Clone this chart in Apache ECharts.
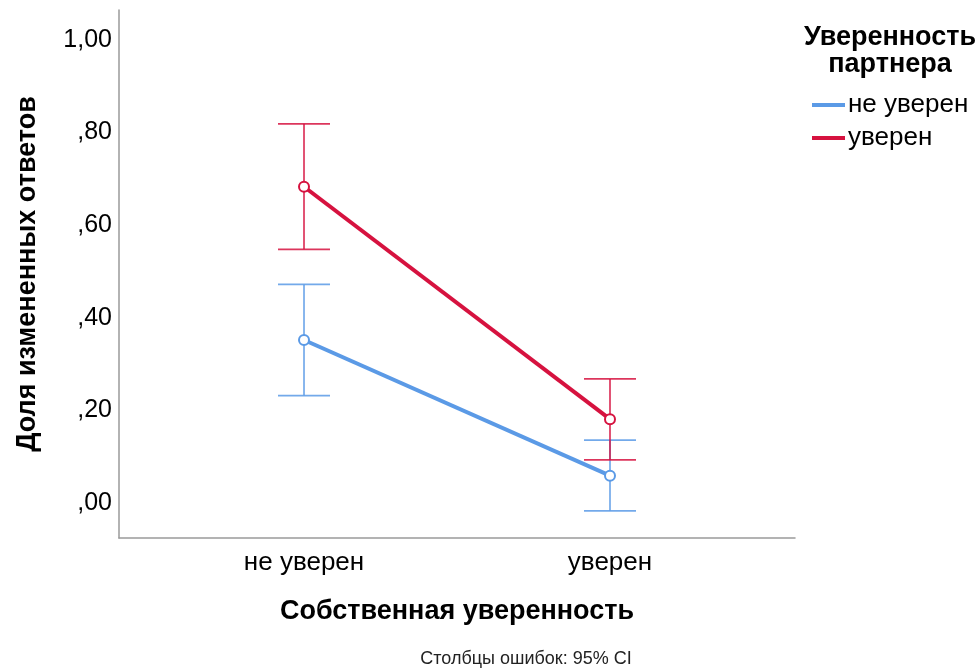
<!DOCTYPE html>
<html>
<head>
<meta charset="utf-8">
<script src="https://cdn.jsdelivr.net/npm/echarts@6/dist/echarts.min.js"></script>
<style>
  html, body { margin: 0; padding: 0; background: #fff; }
  #chart { width: 979px; height: 669px; }
</style>
</head>
<body>
<div id="chart"></div>
<script>
// Own confidence (x) by partner confidence (series): share of changed answers with 95% CI
const categories = ['не уверен', 'уверен'];
const seriesNames = ['не уверен', 'уверен'];
const meansNotSure = [0.352, 0.059];
const lowerNotSure = [0.232, -0.017];
const upperNotSure = [0.472, 0.136];
const meansSure = [0.683, 0.181];
const lowerSure = [0.548, 0.093];
const upperSure = [0.819, 0.268];
const yTickValues = [0, 0.2, 0.4, 0.6, 0.8, 1.0];
const yTickLabels = [',00', ',20', ',40', ',60', ',80', '1,00'];

const colors = ['#5b9ae6', '#d6123f'];
const FONT = 'Liberation Sans, Arial, sans-serif';

function pointsOf(means) {
  return means.map((v, i) => [i, v]);
}
function ciOf(lower, upper) {
  return lower.map((lo, i) => [i, lo, upper[i]]);
}

function errorBarSeries(name, data, color) {
  return {
    type: 'custom',
    name: name,
    z: 1,
    data: data,
    encode: { x: 0, y: [1, 2] },
    renderItem: function (params, api) {
      const x = api.value(0);
      const lo = api.coord([x, api.value(1)]);
      const hi = api.coord([x, api.value(2)]);
      const half = 26;
      const style = { stroke: color, lineWidth: 1.7, opacity: 0.85 };
      return {
        type: 'group',
        children: [
          { type: 'line', shape: { x1: lo[0], y1: lo[1], x2: hi[0], y2: hi[1] }, style: style },
          { type: 'line', shape: { x1: hi[0] - half, y1: hi[1], x2: hi[0] + half, y2: hi[1] }, style: style },
          { type: 'line', shape: { x1: lo[0] - half, y1: lo[1], x2: lo[0] + half, y2: lo[1] }, style: style }
        ]
      };
    },
    silent: true
  };
}

function meanSeries(name, means, color) {
  return {
    type: 'line',
    name: name,
    z: 3,
    data: pointsOf(means),
    symbol: 'emptyCircle',
    symbolSize: 10,
    itemStyle: { color: color, borderWidth: 1.4 },
    lineStyle: { color: color, width: 4 },
    emphasis: { disabled: true }
  };
}

const chart = echarts.init(document.getElementById('chart'), null, { renderer: 'canvas' });

chart.setOption({
  animation: false,
  backgroundColor: '#ffffff',
  grid: { left: 119, right: 184, top: 10, bottom: 131 },
  xAxis: {
    type: 'value',
    min: -0.6046,
    max: 1.6046,
    splitLine: { show: false },
    axisTick: { show: false },
    axisLine: { show: true, onZero: false, lineStyle: { color: '#9a9a9a', width: 1.5 } },
    axisLabel: {
      customValues: [0, 1],
      formatter: function (v) { return categories[Math.round(v)]; },
      color: '#000',
      fontFamily: FONT,
      fontSize: 26,
      margin: 12
    },
    name: 'Собственная уверенность',
    nameLocation: 'middle',
    nameGap: 60,
    nameTextStyle: { color: '#000', fontFamily: FONT, fontSize: 27, fontWeight: 'bold' }
  },
  yAxis: {
    type: 'value',
    min: -0.0756,
    max: 1.0648,
    splitLine: { show: false },
    axisTick: { show: false },
    axisLine: { show: true, onZero: false, lineStyle: { color: '#9a9a9a', width: 1.5 } },
    axisLabel: {
      customValues: yTickValues,
      formatter: function (v) {
        const i = yTickValues.findIndex(t => Math.abs(t - v) < 1e-6);
        return i >= 0 ? yTickLabels[i] : '';
      },
      color: '#000',
      fontFamily: FONT,
      fontSize: 25,
      margin: 7,
      padding: [5, 0, 0, 0]
    },
    name: 'Доля измененных ответов',
    nameLocation: 'middle',
    nameGap: 78,
    nameTextStyle: { color: '#000', fontFamily: FONT, fontSize: 27, fontWeight: 'bold' }
  },
  legend: {
    orient: 'vertical',
    left: 812,
    top: 92,
    padding: 0,
    icon: 'rect',
    itemWidth: 33,
    itemHeight: 4,
    itemGap: 7,
    selectedMode: false,
    textStyle: { color: '#000', fontFamily: FONT, fontSize: 26, padding: [0, 0, 0, -2] },
    data: [
      { name: seriesNames[0], itemStyle: { color: colors[0] } },
      { name: seriesNames[1], itemStyle: { color: colors[1] } }
    ]
  },
  graphic: [
    {
      type: 'text',
      style: {
        x: 890, y: 24,
        text: 'Уверенность\nпартнера',
        textAlign: 'center',
        textVerticalAlign: 'top',
        fill: '#000',
        font: 'bold 27px Liberation Sans, Arial, sans-serif',
        lineHeight: 27
      }
    },
    {
      type: 'text',
      style: {
        x: 526, y: 659,
        text: 'Столбцы ошибок: 95% CI',
        textAlign: 'center',
        textVerticalAlign: 'middle',
        fill: '#222',
        font: '18px Liberation Sans Narrow, Arial Narrow, Liberation Sans, sans-serif'
      }
    }
  ],
  series: [
    errorBarSeries(seriesNames[0], ciOf(lowerNotSure, upperNotSure), colors[0]),
    errorBarSeries(seriesNames[1], ciOf(lowerSure, upperSure), colors[1]),
    meanSeries(seriesNames[0], meansNotSure, colors[0]),
    meanSeries(seriesNames[1], meansSure, colors[1])
  ]
});
</script>
</body>
</html>
